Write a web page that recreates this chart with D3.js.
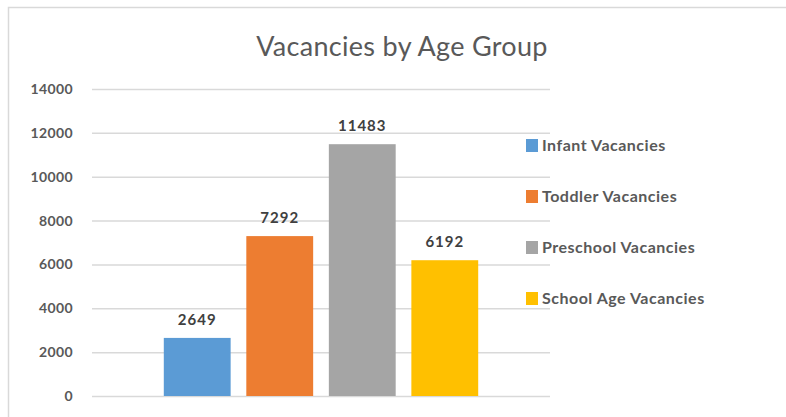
<!DOCTYPE html>
<html><head><meta charset="utf-8">
<script src="https://cdn.jsdelivr.net/npm/d3@7"></script>
<style>body{margin:0;background:#fff;}svg{display:block;font-family:Lato,"Open Sans",sans-serif;}</style>
</head><body>
<svg id="c" width="786" height="417"></svg>
<script>
const title = "Vacancies by Age Group";
const series = ["Infant Vacancies","Toddler Vacancies","Preschool Vacancies","School Age Vacancies"];
const values = [2649, 7292, 11483, 6192];
const colors = ["#5b9bd5","#ed7d31","#a5a5a5","#ffc000"];
const yTicks = [0,2000,4000,6000,8000,10000,12000,14000];

const svg = d3.select("#c");
svg.append("rect").attr("x",8.5).attr("y",7.5).attr("width",800).attr("height",420)
  .attr("fill","#fff").attr("stroke","#d9d9d9").attr("stroke-width",1.5);

const plot = {l:92, r:550, t:89, b:396};
const y = d3.scaleLinear().domain([0,14000]).range([plot.b, plot.t]);
const x = d3.scaleBand().domain(series).range([plot.l, plot.r]).paddingInner(0.19).paddingOuter(0.87);

svg.append("text").attr("x",402).attr("y",56).attr("text-anchor","middle")
  .attr("font-size",27).attr("letter-spacing",0.3).attr("fill","#595959").text(title);

const yAxis = d3.axisLeft(y).tickValues(yTicks).tickFormat(d3.format("d"))
  .tickSize(-(plot.r-plot.l)).tickPadding(19);
const ga = svg.append("g").attr("transform",`translate(${plot.l},0)`).call(yAxis);
ga.select(".domain").remove();
ga.selectAll(".tick line").attr("stroke","#d9d9d9").attr("stroke-width",1.5);
ga.selectAll(".tick text").attr("font-size",14).attr("font-weight","bold").attr("fill","#595959")
  .attr("letter-spacing",0.4).attr("font-family","Lato,'Open Sans',sans-serif");

svg.append("g").selectAll("rect").data(series).join("rect")
  .attr("x", d=>x(d)).attr("width", x.bandwidth())
  .attr("y", (d,i)=>y(values[i])).attr("height",(d,i)=>plot.b - y(values[i]))
  .attr("fill",(d,i)=>colors[i]);

svg.append("g").selectAll("text").data(series).join("text")
  .attr("x", d=>x(d)+x.bandwidth()/2).attr("y",(d,i)=>y(values[i])-13)
  .attr("text-anchor","middle").attr("font-size",15).attr("font-weight","bold").attr("fill","#404040")
  .attr("letter-spacing",1).text((d,i)=>values[i]);

const leg = svg.append("g").selectAll("g").data(series).join("g")
  .attr("transform",(d,i)=>`translate(526,${145 + i*51})`);
leg.append("rect").attr("x",0).attr("y",-6).attr("width",12).attr("height",13).attr("fill",(d,i)=>colors[i]);
leg.append("text").attr("x",16).attr("y",6).attr("font-size",16).attr("font-weight","bold")
  .attr("letter-spacing",0.5).attr("fill","#595959").text(d=>d);
</script>
</body></html>
